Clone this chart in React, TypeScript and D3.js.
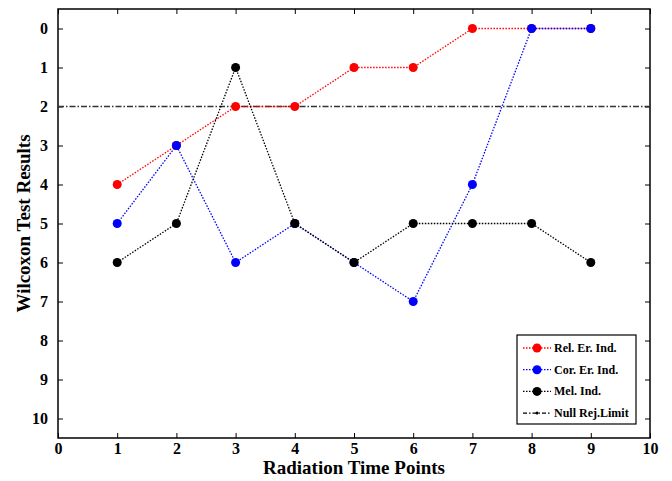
import React, { useRef, useEffect } from "react";
import * as d3 from "d3";

const timePoints = [1, 2, 3, 4, 5, 6, 7, 8, 9];
const relErInd = [4, 3, 2, 2, 1, 1, 0, 0, 0];
const corErInd = [5, 3, 6, 5, 6, 7, 4, 0, 0];
const melInd = [6, 5, 1, 5, 6, 5, 5, 5, 6];
const nullRejLimit = 2;
const xTicks = [0, 1, 2, 3, 4, 5, 6, 7, 8, 9, 10];
const yTicks = [0, 1, 2, 3, 4, 5, 6, 7, 8, 9, 10];

const seriesList = [
  { name: "Rel. Er. Ind.", values: relErInd, color: "#ff0000" },
  { name: "Cor. Er. Ind.", values: corErInd, color: "#0000ff" },
  { name: "Mel. Ind.", values: melInd, color: "#000000" },
];

const font = "Liberation Serif, Times New Roman, serif";

const App = () => {
  const ref = useRef<SVGSVGElement>(null);

  useEffect(() => {
    if (!ref.current) return;
    const svg = d3.select(ref.current);
    svg.selectAll("*").remove();

    const margin = { left: 58, right: 22, top: 9, bottom: 43 };
    const width = 672;
    const height = 481;
    const w = width - margin.left - margin.right;
    const h = height - margin.top - margin.bottom;

    const x = d3.scaleLinear().domain([0, 10]).range([0, w]);
    const y = d3.scaleLinear().domain([-0.5, 10.5]).range([0, h]);

    const g = svg
      .append("g")
      .attr("transform", "translate(" + margin.left + "," + margin.top + ")");

    // axes with inward ticks on all four sides
    const styleAxis = (sel: any) => {
      sel.select(".domain").remove();
      sel.selectAll("line").attr("stroke", "#000").attr("stroke-width", 1);
      sel.selectAll("text")
        .style("font-family", font)
        .style("font-weight", "bold")
        .style("font-size", "16px")
        .attr("fill", "#000");
    };

    g.append("g")
      .attr("transform", "translate(0," + h + ")")
      .call(d3.axisBottom(x).tickValues(xTicks).tickSize(-5).tickPadding(5).tickFormat(d3.format("d")))
      .call(styleAxis);
    g.append("g")
      .call(d3.axisTop(x).tickValues(xTicks).tickSize(-5).tickFormat(() => ""))
      .call(styleAxis);
    g.append("g")
      .call(d3.axisLeft(y).tickValues(yTicks).tickSize(-5).tickPadding(10).tickFormat(d3.format("d")))
      .call(styleAxis);
    g.append("g")
      .attr("transform", "translate(" + w + ",0)")
      .call(d3.axisRight(y).tickValues(yTicks).tickSize(-5).tickFormat(() => ""))
      .call(styleAxis);

    g.append("rect")
      .attr("width", w)
      .attr("height", h)
      .attr("fill", "none")
      .attr("stroke", "#000")
      .attr("stroke-width", 1.5);

    // null rejection limit (under the markers)
    g.append("line")
      .attr("x1", 0)
      .attr("x2", w)
      .attr("y1", y(nullRejLimit))
      .attr("y2", y(nullRejLimit))
      .attr("stroke", "#333")
      .attr("stroke-width", 1.3)
      .attr("stroke-dasharray", "6,2,1.5,2");

    const line = d3
      .line<number>()
      .x((d, i) => x(timePoints[i]))
      .y((d) => y(d));

    seriesList.forEach((s) => {
      g.append("path")
        .datum(s.values)
        .attr("d", line)
        .attr("fill", "none")
        .attr("stroke", s.color)
        .attr("stroke-width", 1.3)
        .attr("stroke-dasharray", "1.5,1.5");
      g.selectAll(null)
        .data(s.values)
        .enter()
        .append("circle")
        .attr("cx", (d, i) => x(timePoints[i]))
        .attr("cy", (d) => y(d))
        .attr("r", 4.5)
        .attr("fill", s.color);
    });

    // axis titles
    svg.append("text")
      .attr("x", margin.left + w / 2)
      .attr("y", 474)
      .attr("text-anchor", "middle")
      .style("font-family", font)
      .style("font-weight", "bold")
      .style("font-size", "19px")
      .text("Radiation Time Points");
    svg.append("text")
      .attr("transform", "translate(30," + (margin.top + h / 2) + ") rotate(-90)")
      .attr("text-anchor", "middle")
      .style("font-family", font)
      .style("font-weight", "bold")
      .style("font-size", "19px")
      .text("Wilcoxon Test Results");

    // legend
    const lg = svg.append("g").attr("transform", "translate(517,335)");
    lg.append("rect")
      .attr("width", 119)
      .attr("height", 89)
      .attr("fill", "#fff")
      .attr("stroke", "#000")
      .attr("stroke-width", 1.2);
    const entries = [
      ...seriesList.map((s) => ({ name: s.name, color: s.color, marker: 4.5, dash: "1.5,1.5" })),
      { name: "Null Rej.Limit", color: "#000", marker: 1.5, dash: "4,2,1.5,2" },
    ];
    entries.forEach((e, i) => {
      const yy = 13 + i * 21.7;
      lg.append("line")
        .attr("x1", 6)
        .attr("x2", 34)
        .attr("y1", yy)
        .attr("y2", yy)
        .attr("stroke", e.color)
        .attr("stroke-width", 1.3)
        .attr("stroke-dasharray", e.dash);
      lg.append("circle").attr("cx", 20).attr("cy", yy).attr("r", e.marker).attr("fill", e.color);
      lg.append("text")
        .attr("x", 37)
        .attr("y", yy + 4)
        .style("font-family", font)
        .style("font-weight", "bold")
        .style("font-size", "12px")
        .text(e.name);
    });
  }, []);

  return (
    <svg
      ref={ref}
      width={672}
      height={481}
      style={{ position: "absolute", left: 0, top: 0, background: "#fff" }}
    />
  );
};

export default App;
